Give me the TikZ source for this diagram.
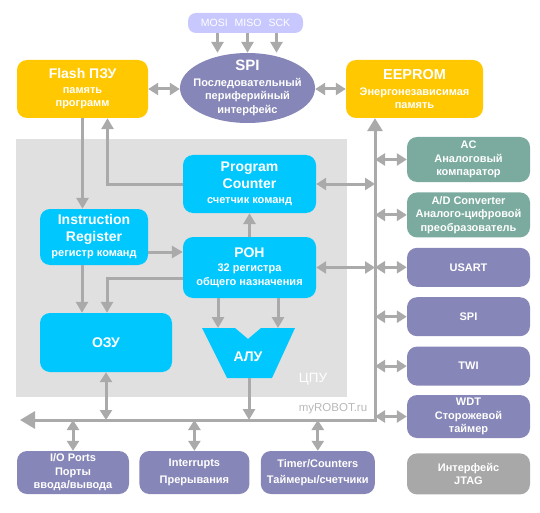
\documentclass[tikz,border=0pt]{standalone}
\usepackage{fontspec}
\setmainfont{Liberation Sans}
\usepackage{tikz}
\usetikzlibrary{positioning,arrows.meta,shapes.geometric,calc}
\definecolor{mcuYellow}{RGB}{255,200,0}
\definecolor{mcuCyan}{RGB}{0,200,255}
\definecolor{mcuPurple}{RGB}{134,134,184}
\definecolor{mcuTeal}{RGB}{122,171,158}
\definecolor{mcuLilac}{RGB}{200,200,255}
\definecolor{grayBg}{RGB}{224,224,224}
\definecolor{grayLine}{RGB}{170,170,170}
\definecolor{grayBox}{RGB}{168,168,168}
\newcommand{\blkttl}{\fontsize{14}{17}\selectfont}

\begin{document}
\begin{tikzpicture}[x=1pt,y=-1pt,font=\fontsize{11}{13.5}\selectfont\bfseries,
  mem/.style={fill=mcuYellow,text=white,rounded corners=10pt,align=center,inner sep=2pt},
  cpu/.style={fill=mcuCyan,text=white,rounded corners=10pt,align=center,inner sep=2pt},
  per/.style={fill=mcuPurple,text=white,rounded corners=10pt,align=center,inner sep=2pt,minimum width=123pt},
  ana/.style={per,fill=mcuTeal},
  arr/.style={draw=grayLine,line width=3pt,-{Triangle[length=11pt,width=12pt]}},
  darr/.style={draw=grayLine,line width=3pt,{Triangle[length=10pt,width=12pt]}-{Triangle[length=10pt,width=12pt]}}]
\useasboundingbox (0,0) rectangle (540,513);
% CPU area
\node[fill=grayBg,minimum width=331pt,minimum height=258pt,inner sep=0pt] (cpuarea) at (181.5,268) {};
\node[font=\fontsize{13.5}{16}\selectfont,text=white] (cpulbl) at (313,379) {ЦПУ};
\node[font=\fontsize{11.5}{13}\selectfont,text=black!28] (wm) at (333,409) {myROBOT.ru};
% memories and serial interface
\node[mem,minimum width=131pt,minimum height=58pt] (flash) at (82.5,89) {{\blkttl Flash ПЗУ}\\[1pt]память\\программ};
\node[ellipse,fill=mcuPurple,minimum width=135pt,minimum height=70pt,inner sep=0pt] (spi) at (247.5,88) {};
\node[text=white,align=center] (spitxt) at (spi.center) {{\fontsize{15}{17}\selectfont SPI}\\[2pt]Последовательный\\периферийный\\интерфейс};
\node[mem,minimum width=137pt,minimum height=58pt] (eeprom) at (414.5,89) {{\fontsize{14.5}{17}\selectfont EEPROM}\\[2pt]Энергонезависимая\\память};
\node[fill=mcuLilac,rounded corners=8pt,minimum width=115pt,minimum height=20pt,text=white,font=\fontsize{10.5}{12}\selectfont] (pins) at (245.5,23) {MOSI\hspace{7pt}MISO\hspace{7pt}SCK};
% CPU blocks
\node[cpu,minimum width=133pt,minimum height=58pt] (pc) at (249.5,184) {{\blkttl Program}\\[3pt]{\blkttl Counter}\\[2pt]счетчик команд};
\node[cpu,minimum width=108pt,minimum height=56pt] (ir) at (94,237) {{\blkttl Instruction}\\[3pt]{\blkttl Register}\\[2pt]регистр команд};
\node[cpu,minimum width=133pt,minimum height=61pt] (ron) at (249.5,267.5) {{\blkttl РОН}\\[1pt]32 регистра\\общего назначения};
\node[cpu,minimum width=132pt,minimum height=59pt] (ram) at (106,342.5) {\blkttl ОЗУ};
% ALU
\fill[mcuCyan] (202,328) -- (235,328) -- (248,339) -- (261,328) -- (295,328) -- (272,378) -- (227,378) -- cycle;
\node[text=white] (alu) at (248,357) {\blkttl АЛУ};
\coordinate (aluinl) at (218,328);
\coordinate (aluinr) at (278,328);
\coordinate (aluout) at (249,378);
% peripherals
\node[ana,minimum height=45pt] (ac) at (468.5,159.5) {AC\\Аналоговый\\компаратор};
\node[ana,minimum height=45pt,below=10pt of ac] (adc) {A/D Converter\\Аналого-цифровой\\преобразователь};
\node[per,minimum height=39pt,below=10pt of adc] (usart) {USART};
\node[per,minimum height=39pt,below=10pt of usart] (spi2) {SPI};
\node[per,minimum height=39pt,below=10pt of spi2] (twi) {TWI};
\node[per,minimum height=43pt,below=9pt of twi] (wdt) {WDT\\Сторожевой\\таймер};
\node[per,fill=grayBox,minimum height=41pt,below=15pt of wdt] (jtag) {Интерфейс\\JTAG};
\node[per,minimum width=112pt,minimum height=43pt] (io) at (73,472.5) {I/O Ports\\Порты\\ввода/вывода};
\node[per,minimum width=110pt,minimum height=43pt,right=10pt of io] (irq) {Interrupts\\[3pt]Прерывания};
\node[per,minimum width=114pt,minimum height=43pt,right=11pt of irq] (tmr) {Timer/Counters\\[3pt]Таймеры/счетчики};
% bus
\coordinate (buscorner) at (375,420);
\coordinate (busleft) at (20,420);
\draw[draw=grayLine,line width=3pt,{Triangle[length=15pt,width=17pt]}-{Triangle[length=13pt,width=15pt]}] (busleft) -- (buscorner) -- (buscorner |- eeprom.south);
% connections
\foreach \dx in {-30,0,29}
  \draw[arr] ($(spi.north |- pins.south)+(\dx,0)$) -- ($(spi.north)+(\dx,0)$);
\draw[darr] (flash.east) -- (flash.east -| spi.west);
\draw[darr] (spi.east |- eeprom.west) -- (eeprom.west);
\draw[arr] (flash.south) -- (flash.south |- ir.north);
\draw[arr] (pc.west) -| ($(flash.south)+(25,0)$);
\coordinate (irr) at ($(ir.east)+(0,15)$);
\draw[arr] (irr) -- (irr -| ron.west);
\draw[arr] (ron.north) -- (pc.south);
\draw[darr] (pc.east) -- (pc.east -| buscorner);
\draw[darr] (ron.east) -- (ron.east -| buscorner);
\coordinate (irb) at ($(ir.south)+(-12,0)$);
\draw[arr] (irb) -- (irb |- ram.north);
\coordinate (ronl) at ($(ron.west)+(0,10.5)$);
\draw[arr] (ronl) -| ($(ram.north)+(1,0)$);
\draw[arr] (ron.south -| aluinl) -- (aluinl);
\draw[arr] (ron.south -| aluinr) -- (aluinr);
\draw[arr] (aluout) -- (aluout |- buscorner);
\draw[darr] (ram.south) -- (ram.south |- buscorner);
\foreach \n in {ac,adc,usart,spi2,twi,wdt}
  \draw[darr] (\n.west -| buscorner) -- (\n.west);
\foreach \n in {io,irq,tmr}
  \draw[darr] (\n.north |- buscorner) -- (\n.north);
\end{tikzpicture}
\end{document}
